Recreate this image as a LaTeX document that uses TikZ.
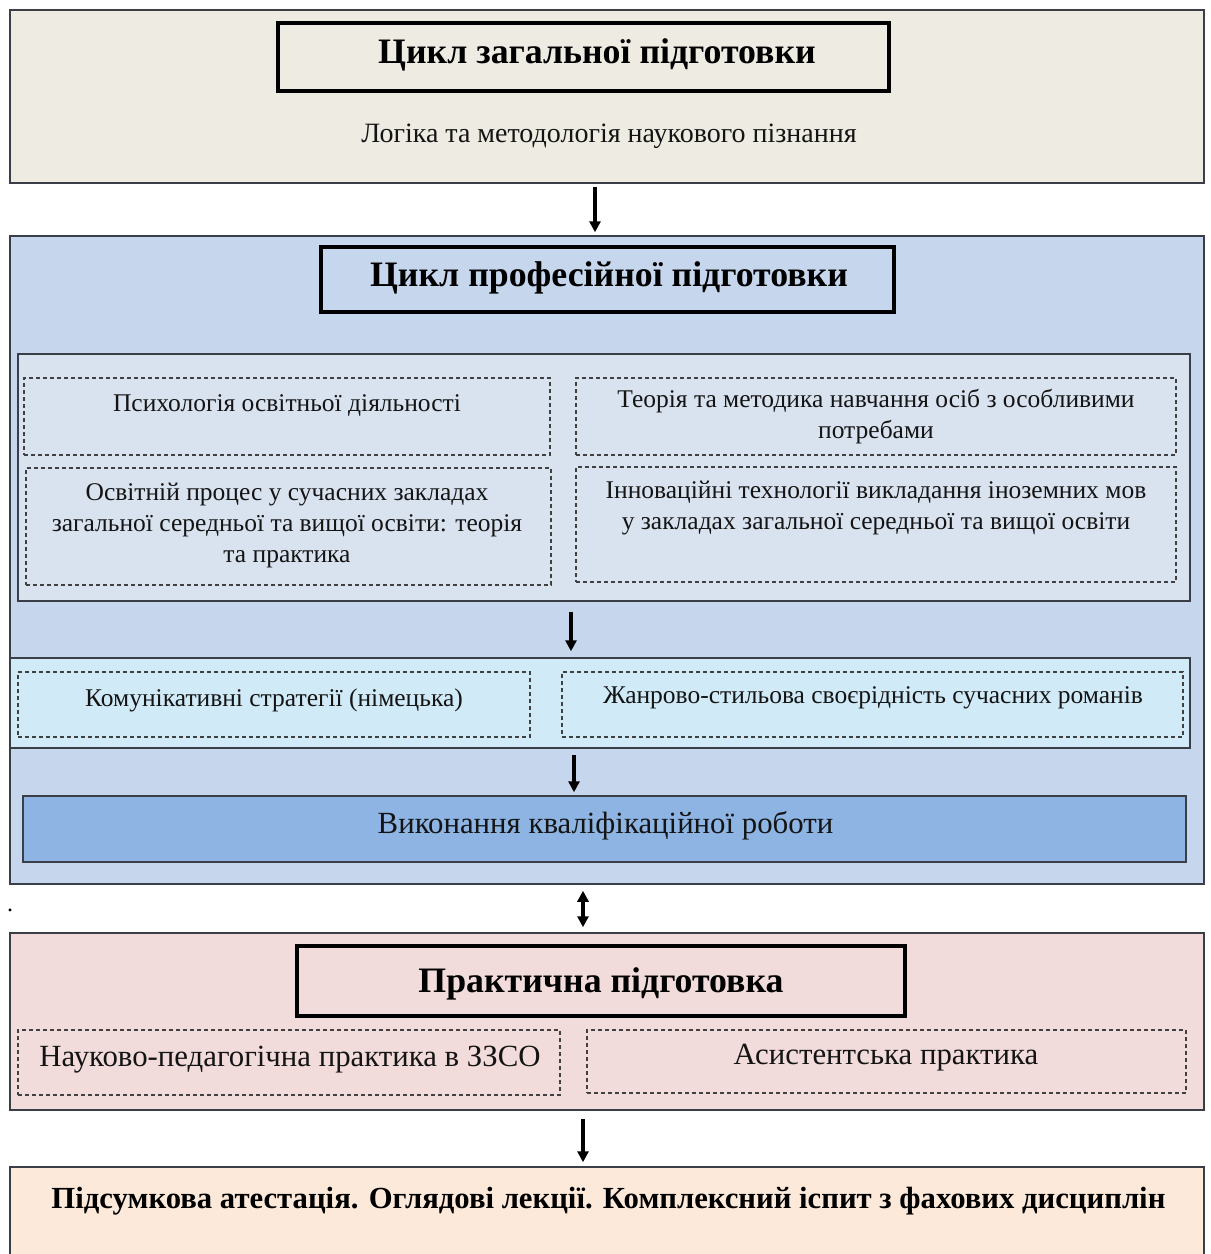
\documentclass[tikz,border=0pt]{standalone}
\usepackage{fontspec}
\setmainfont{Liberation Serif}
\usetikzlibrary{arrows.meta}
\definecolor{beige}{HTML}{EEECE2}
\definecolor{profblue}{HTML}{C6D6EC}
\definecolor{innerA}{HTML}{D9E2EF}
\definecolor{innerB}{HTML}{D0EAF8}
\definecolor{boxC}{HTML}{8DB4E2}
\definecolor{pinkbg}{HTML}{F2DCDB}
\definecolor{peach}{HTML}{FDE9D9}
\definecolor{frame}{HTML}{3A3F47}
\tikzset{
  outerbox/.style={draw=frame, line width=1.5pt, rectangle, inner sep=0pt},
  titlebox/.style={draw=black, line width=4.5pt, rectangle, inner sep=0pt},
  innerbox/.style={draw=frame, line width=1.5pt, rectangle, inner sep=0pt},
  dashbox/.style={draw=black!75, line width=1.2pt, dash pattern=on 4pt off 3pt, rectangle, inner sep=0pt},
  titletext/.style={font=\fontsize{35.8}{40}\selectfont\bfseries},
  bodytext/.style={font=\fontsize{25.5}{31}\selectfont, align=center, text=black!92},
  bigtext/.style={font=\fontsize{30.8}{36}\selectfont, align=center, text=black!92},
  arr/.style={line width=3.5pt, -{Triangle[length=11pt,width=11pt]}},
  darr/.style={line width=3.5pt, {Triangle[length=11pt,width=11pt]}-{Triangle[length=11pt,width=11pt]}},
}
\begin{document}
\begin{tikzpicture}[x=1pt,y=-1pt]
\useasboundingbox[fill=white] (0,0) rectangle (1211,1254);

% ---- general cycle
\node[outerbox, fill=beige, minimum width=1194pt, minimum height=173pt] (gen) at (607,96.5) {};
\node[titlebox, minimum width=611pt, minimum height=68pt] (genT) at (583.5,57) {};
\node[titletext] (genTt) at (597,55) {Цикл загальної підготовки};
\node[font=\fontsize{28}{32}\selectfont, text=black!92] (genS) at (609,136) {Логіка та методологія наукового пізнання};

% ---- professional cycle
\node[outerbox, fill=profblue, minimum width=1194pt, minimum height=648pt] (prof) at (607,560) {};
\node[titlebox, fill=profblue, minimum width=573pt, minimum height=65pt] (profT) at (607.5,279.5) {};
\node[titletext] (profTt) at (609,278) {Цикл професійної підготовки};

\node[innerbox, fill=innerA, minimum width=1172pt, minimum height=247pt] (A) at (604,477.5) {};
\node[dashbox, minimum width=526pt, minimum height=77pt] (A1) at (287,416.5) {};
\node[bodytext] (A1t) at (287,406) {Психологія освітньої діяльності};
\node[dashbox, minimum width=600pt, minimum height=77pt] (A2) at (876,416.5) {};
\node[bodytext] (A2t) at (876,417) {Теорія та методика навчання осіб з особливими\\потребами};
\node[dashbox, minimum width=525pt, minimum height=117pt] (A3) at (288.5,526.5) {};
\node[bodytext] (A3t) at (287,525) {Освітній процес у сучасних закладах\\загальної середньої та вищої освіти: теорія\\та практика};
\node[dashbox, minimum width=600pt, minimum height=115pt] (A4) at (876,524.5) {};
\node[bodytext] (A4t) at (876,508) {Інноваційні технології викладання іноземних мов\\у закладах загальної середньої та вищої освіти};

\node[innerbox, fill=innerB, minimum width=1180pt, minimum height=90pt] (B) at (600,703) {};
\node[dashbox, minimum width=512pt, minimum height=65pt] (B1) at (274,704.5) {};
\node[bodytext] (B1t) at (274,700) {Комунікативні стратегії (німецька)};
\node[dashbox, minimum width=621pt, minimum height=65pt] (B2) at (872.5,704.5) {};
\node[bodytext] (B2t) at (873,698) {Жанрово-стильова своєрідність сучасних романів};

\node[innerbox, fill=boxC, minimum width=1163pt, minimum height=66pt] (C) at (604.5,829) {};
\node[bigtext] (Ct) at (605.5,826) {Виконання кваліфікаційної роботи};

% ---- practical
\node[outerbox, fill=pinkbg, minimum width=1194pt, minimum height=177pt] (prac) at (607,1021.5) {};
\node[titlebox, minimum width=608pt, minimum height=70pt] (pracT) at (601,981) {};
\node[titletext] (pracTt) at (601,984) {Практична підготовка};
\node[dashbox, minimum width=542pt, minimum height=65pt] (P1) at (289,1062.5) {};
\node[bigtext] (P1t) at (290,1060) {Науково-педагогічна практика в ЗЗСО};
\node[dashbox, minimum width=599pt, minimum height=63pt] (P2) at (886.5,1061.5) {};
\node[bigtext] (P2t) at (886,1058) {Асистентська практика};

% ---- final
\node[outerbox, fill=peach, minimum width=1194pt, minimum height=100pt] (fin) at (607,1217) {};
\node[font=\fontsize{30.7}{34}\selectfont\bfseries] (fint) at (608.5,1201) {Підсумкова атестація. Оглядові лекції. Комплексний іспит з фахових дисциплін};

\node[font=\fontsize{24}{28}\selectfont] (dot) at (10,910) {.};

% ---- connectors
\coordinate (x1) at (595,0);
\coordinate (x2) at (571,0);
\coordinate (x3) at (574,0);
\coordinate (x4) at (583,0);
\draw[arr, shorten <=3pt, shorten >=3pt] (gen.south -| x1) -- (prof.north -| x1);
\draw[arr, shorten <=10pt, shorten >=6pt] (A.south -| x2) -- (B.north -| x2);
\draw[arr, shorten <=6pt, shorten >=3pt] (B.south -| x3) -- (C.north -| x3);
\draw[darr, shorten <=6pt, shorten >=5pt] (prof.south -| x4) -- (prac.north -| x4);
\draw[arr, shorten <=8pt, shorten >=4pt] (prac.south -| x4) -- (fin.north -| x4);
\end{tikzpicture}
\end{document}
